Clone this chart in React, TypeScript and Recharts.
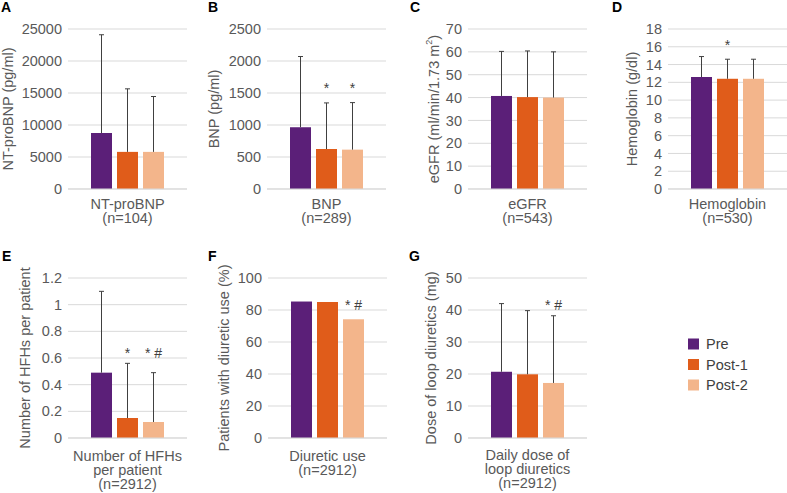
import React from "react";
import { BarChart, Bar, XAxis, YAxis, CartesianGrid, Label } from "recharts";

const FONT = "'Liberation Sans', Arial, sans-serif";
const AXIS_TEXT = "#595959";
const GRID = "#d9d9d9";
const WHISKER = "#404040";

// three measurement periods, one bar each per panel
const groups = ["Pre", "Post-1", "Post-2"];
const seriesKeys = ["pre", "post1", "post2"];
const seriesColors = ["#5b1f78", "#e05c1a", "#f3b58b"];

// A: NT-proBNP
const ntProBnpMean = [8750, 5800, 5800];
const ntProBnpUpper = [24100, 15650, 14450];
const ntProBnpTicks = [0, 5000, 10000, 15000, 20000, 25000];

// B: BNP
const bnpMean = [965, 625, 615];
const bnpUpper = [2070, 1345, 1350];
const bnpMarks = ["", "*", "*"];
const bnpTicks = [0, 500, 1000, 1500, 2000, 2500];

// C: eGFR
const egfrMean = [40.7, 40.2, 40.0];
const egfrUpper = [60.2, 60.4, 60.0];
const egfrTicks = [0, 10, 20, 30, 40, 50, 60, 70];

// D: hemoglobin
const hbMean = [12.6, 12.4, 12.4];
const hbUpper = [14.9, 14.6, 14.6];
const hbMarks = ["", "*", ""];
const hbTicks = [0, 2, 4, 6, 8, 10, 12, 14, 16, 18];

// E: heart failure hospitalisations per patient
const hfhMean = [0.49, 0.15, 0.12];
const hfhUpper = [1.1, 0.56, 0.49];
const hfhMarks = ["", "*", "* #"];
const hfhTicks = [0, 0.2, 0.4, 0.6, 0.8, 1, 1.2];

// F: diuretic use (%)
const diureticMean = [85.3, 85.0, 74.2];
const diureticMarks = ["", "", "* #"];
const diureticTicks = [0, 20, 40, 60, 80, 100];

// G: daily loop diuretic dose (mg)
const loopMean = [20.7, 19.9, 17.2];
const loopUpper = [42.0, 39.8, 38.2];
const loopMarks = ["", "", "* #"];
const loopTicks = [0, 10, 20, 30, 40, 50];

type PanelDef = {
  letter: string;
  letterX: number;
  left: number;
  top: number;
  axisWidth: number;
  yLabel: React.ReactNode;
  yLabelX: number;
  category: string[];
  catOffset: number;
  ticks: number[];
  mean: number[];
  upper?: number[];
  marks?: string[];
  markAt?: number;
};

const PLOT_W = 119;
const PLOT_H = 160;
const MARGIN_TOP = 29;

const panels: PanelDef[] = [
  {
    letter: "A", letterX: 1, left: 0, top: 0, axisWidth: 68,
    yLabel: "NT-proBNP (pg/ml)", yLabelX: 8,
    category: ["NT-proBNP", "(n=104)"], catOffset: 19.5,
    ticks: ntProBnpTicks, mean: ntProBnpMean, upper: ntProBnpUpper,
  },
  {
    letter: "B", letterX: 208, left: 195, top: 0, axisWidth: 72,
    yLabel: "BNP (pg/ml)", yLabelX: 214,
    category: ["BNP", "(n=289)"], catOffset: 19.5,
    ticks: bnpTicks, mean: bnpMean, upper: bnpUpper, marks: bnpMarks, markAt: 1620,
  },
  {
    letter: "C", letterX: 410, left: 390, top: 0, axisWidth: 78,
    yLabel: (
      <>
        eGFR (ml/min/1.73 m<tspan dy={-5} fontSize={9}>2</tspan>
        <tspan dy={5}>)</tspan>
      </>
    ),
    yLabelX: 434,
    category: ["eGFR", "(n=543)"], catOffset: 19.5,
    ticks: egfrTicks, mean: egfrMean, upper: egfrUpper,
  },
  {
    letter: "D", letterX: 612, left: 585, top: 0, axisWidth: 83,
    yLabel: "Hemoglobin (g/dl)", yLabelX: 632,
    category: ["Hemoglobin", "(n=530)"], catOffset: 19.5,
    ticks: hbTicks, mean: hbMean, upper: hbUpper, marks: hbMarks, markAt: 16.5,
  },
  {
    letter: "E", letterX: 2, left: 0, top: 249, axisWidth: 68,
    yLabel: "Number of HFHs per patient", yLabelX: 25,
    category: ["Number of HFHs", "per patient", "(n=2912)"], catOffset: 23,
    ticks: hfhTicks, mean: hfhMean, upper: hfhUpper, marks: hfhMarks, markAt: 0.66,
  },
  {
    letter: "F", letterX: 208, left: 195, top: 249, axisWidth: 73,
    yLabel: "Patients with diuretic use (%)", yLabelX: 224,
    category: ["Diuretic use", "(n=2912)"], catOffset: 22.5,
    ticks: diureticTicks, mean: diureticMean, marks: diureticMarks, markAt: 85,
  },
  {
    letter: "G", letterX: 409, left: 390, top: 249, axisWidth: 78,
    yLabel: "Dose of loop diuretics (mg)", yLabelX: 431,
    category: ["Daily dose of", "loop diuretics", "(n=2912)"], catOffset: 22,
    ticks: loopTicks, mean: loopMean, upper: loopUpper, marks: loopMarks, markAt: 42.6,
  },
];

// bar rectangle plus a one-sided (upward) whisker and significance marks
const makeShape = (panel: PanelDef, i: number) => (props: any) => {
  const { x, y, width, height, fill } = props;
  const value = panel.mean[i];
  const perUnit = height / value;
  const base = y + height;
  const cx = x + width / 2;
  const upper = panel.upper ? panel.upper[i] : undefined;
  const mark = panel.marks ? panel.marks[i] : "";
  const whiskerTop = upper != null ? base - upper * perUnit : y;
  return (
    <g>
      <rect x={x} y={y} width={width} height={height} fill={fill} />
      {upper != null && (
        <g stroke={WHISKER} strokeWidth={1}>
          <line x1={cx} x2={cx} y1={y} y2={whiskerTop} />
          <line x1={cx - 2.5} x2={cx + 2.5} y1={whiskerTop} y2={whiskerTop} />
        </g>
      )}
      {mark && panel.markAt != null && (
        <text
          x={cx}
          y={base - panel.markAt * perUnit + 8}
          textAnchor="middle"
          fontSize={14}
          fontFamily={FONT}
          fill={WHISKER}
        >
          {mark}
        </text>
      )}
    </g>
  );
};

const CategoryTick = ({ x, y, lines, offset }: any) => (
  <text x={x} y={y} textAnchor="middle" fontSize={14.5} fontFamily={FONT} fill={AXIS_TEXT}>
    {(lines as string[]).map((line, i) => (
      <tspan key={i} x={x} dy={i === 0 ? offset : 14}>
        {line}
      </tspan>
    ))}
  </text>
);

const Panel = ({ panel }: { panel: PanelDef }) => {
  const row: Record<string, any> = { name: panel.category.join(" ") };
  seriesKeys.forEach((k, i) => {
    row[k] = panel.mean[i];
  });
  const width = panel.axisWidth + PLOT_W;
  const height = panel.top === 0 ? 239 : 244;
  const labelX = panel.yLabelX - panel.left;
  const labelY = MARGIN_TOP + PLOT_H / 2;

  return (
    <div style={{ position: "absolute", left: panel.left, top: panel.top }}>
      <BarChart
        width={width}
        height={height}
        data={[row]}
        margin={{ top: MARGIN_TOP, right: 0, bottom: 0, left: 0 }}
        barGap={5}
      >
        <CartesianGrid vertical={false} stroke={GRID} />
        <XAxis
          dataKey="name"
          axisLine={{ stroke: GRID }}
          tickLine={false}
          tickSize={0}
          tickMargin={0}
          height={height - MARGIN_TOP - PLOT_H}
          interval={0}
          tick={<CategoryTick lines={panel.category} offset={panel.catOffset} />}
        />
        <YAxis
          type="number"
          domain={[0, panel.ticks[panel.ticks.length - 1]]}
          ticks={panel.ticks}
          interval={0}
          width={panel.axisWidth}
          axisLine={false}
          tickLine={false}
          tickSize={0}
          tickMargin={6}
          tick={{ fill: AXIS_TEXT, fontSize: 14.5, fontFamily: FONT }}
        >
          <Label
            content={() => (
              <text
                x={labelX}
                y={labelY}
                transform={`rotate(-90 ${labelX} ${labelY})`}
                textAnchor="middle"
                dominantBaseline="central"
                fontSize={14.5}
                fontFamily={FONT}
                fill={AXIS_TEXT}
              >
                {panel.yLabel}
              </text>
            )}
          />
        </YAxis>
        {seriesKeys.map((k, i) => (
          <Bar
            key={k}
            dataKey={k}
            name={groups[i]}
            fill={seriesColors[i]}
            barSize={21}
            isAnimationActive={false}
            shape={makeShape(panel, i)}
          />
        ))}
      </BarChart>
    </div>
  );
};

export default function App() {
  return (
    <div
      style={{
        position: "absolute",
        left: 0,
        top: 0,
        width: 787,
        height: 493,
        background: "#fff",
        fontFamily: FONT,
      }}
    >
      {panels.map((p) => (
        <Panel key={p.letter} panel={p} />
      ))}
      <svg
        width={787}
        height={493}
        style={{ position: "absolute", left: 0, top: 0, pointerEvents: "none" }}
      >
        {panels.map((p) => (
          <text
            key={p.letter}
            x={p.letterX}
            y={p.top === 0 ? 12 : 261}
            fontSize={14}
            fontWeight="bold"
            fontFamily={FONT}
            fill="#000"
          >
            {p.letter}
          </text>
        ))}
        {groups.map((g, i) => (
          <g key={g}>
            <rect x={688} y={338.5 + i * 20.5} width={11} height={11} fill={seriesColors[i]} />
            <text x={706} y={349 + i * 20.5} fontSize={14.5} fontFamily={FONT} fill="#404040">
              {g}
            </text>
          </g>
        ))}
      </svg>
    </div>
  );
}
